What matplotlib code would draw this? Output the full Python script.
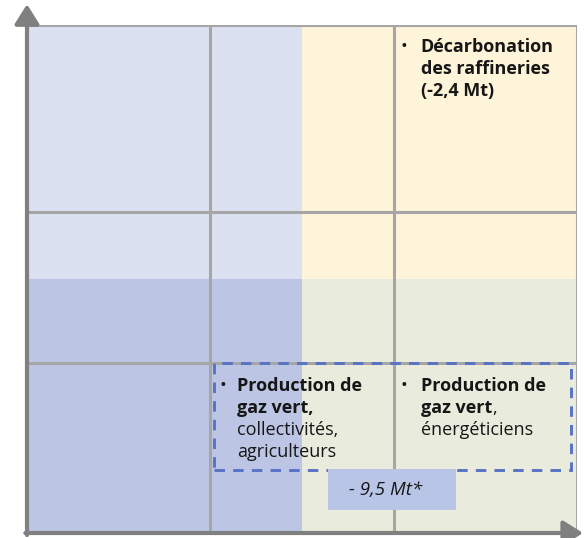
import matplotlib.pyplot as plt
from matplotlib.patches import Rectangle

# grid (axes fraction, x to the right, y upwards)
col_lines = [1/3, 2/3]
row_lines = [0.335, 0.632]
split_x, split_y = 0.5, 0.5

# quadrant colours: (x0, x1, y0, y1, colour)
quad_x = [(0, split_x), (split_x, 1), (0, split_x), (split_x, 1)]
quad_y = [(split_y, 1), (split_y, 1), (0, split_y), (0, split_y)]
quad_colors = ['#dce1f1', '#fef4d9', '#bcc6e4', '#e9ecdc']

# dashed group and its value label
group_x = (0.34, 0.989)
group_y = (0.124, 0.335)
value_x = (0.547, 0.78)
value_y = (0.045, 0.126)
value_label = '- 9,5 Mt*'

# bullet texts: (bullet x, text x, first line y, [(text, weight), ...])
blocks = [
    (0.68, 0.716, 0.957, [[('Décarbonation', 'bold')],
                          [('des raffineries', 'bold')],
                          [('(-2,4 Mt)', 'bold')]]),
    (0.35, 0.382, 0.289, [[('Production de', 'bold')],
                          [('gaz vert,', 'bold')],
                          [('collectivités,', 'normal')],
                          [('agriculteurs', 'normal')]]),
    (0.68, 0.716, 0.289, [[('Production de', 'bold')],
                          [('gaz vert', 'bold'), (',', 'normal')],
                          [('énergéticiens', 'normal')]]),
]

plt.rcParams['font.family'] = ['Open Sans', 'DejaVu Sans']

fig = plt.figure(figsize=(5.86, 5.38), dpi=100)
ax = fig.add_axes([27/586, 5/538, 550/586, 508/538])
ax.set_xlim(0, 1)
ax.set_ylim(0, 1)
ax.axis('off')

for (x0, x1), (y0, y1), c in zip(quad_x, quad_y, quad_colors):
    ax.add_patch(Rectangle((x0, y0), x1 - x0, y1 - y0, color=c, lw=0, zorder=0))

grid_c = '#a6a6a6'
for x in col_lines:
    ax.plot([x, x], [0, 1], color=grid_c, lw=2.2, zorder=1)
for y in row_lines:
    ax.plot([0, 1], [y, y], color=grid_c, lw=2.2, zorder=1)
ax.plot([0, 1], [1, 1], color=grid_c, lw=2.2, zorder=1, solid_capstyle='butt')
ax.plot([1, 1], [0, 1], color=grid_c, lw=2.2, zorder=1, solid_capstyle='butt')

# dashed group outline
ax.add_patch(Rectangle((group_x[0], group_y[0]), group_x[1] - group_x[0],
                       group_y[1] - group_y[0], fill=False, ec='#5873c6',
                       lw=2.1, ls=(0, (3.6, 2.8)), zorder=2))

# value label box
ax.add_patch(Rectangle((value_x[0], value_y[0]), value_x[1] - value_x[0],
                       value_y[1] - value_y[0], color='#b9c5e6', lw=0, zorder=3))
ax.text(value_x[0] + 0.45 * (value_x[1] - value_x[0]), (value_y[0] + value_y[1]) / 2,
        value_label, ha='center', va='center', style='italic', fontsize=13.5,
        color='#161616', zorder=4)

# axes with arrows
axis_c = '#808080'
arrow = dict(arrowstyle='-|>,head_length=0.8,head_width=0.5', color=axis_c, lw=3,
             shrinkA=0, shrinkB=0, mutation_scale=15)
ax.annotate('', xy=(0, 1.041), xytext=(0, -0.004), arrowprops=arrow, annotation_clip=False)
ax.annotate('', xy=(1.011, 0), xytext=(-0.003, 0), arrowprops=arrow, annotation_clip=False)

# bullet texts
step = 22 / 508
for bx, tx, y0, lines in blocks:
    ax.text(bx, y0, '•', ha='left', va='center', fontsize=13, color='#161616', zorder=4)
    for i, parts in enumerate(lines):
        y = y0 - i * step
        prev = None
        for s, w in parts:
            if prev is None:
                prev = ax.text(tx, y, s, ha='left', va='center', fontsize=13,
                               fontweight=w, color='#161616', zorder=4)
            else:
                prev = ax.annotate(s, xy=(1, 0), xycoords=prev, ha='left', va='bottom',
                                   fontsize=13, fontweight=w, color='#161616', zorder=4)

fig.savefig('out.png', dpi=100)
